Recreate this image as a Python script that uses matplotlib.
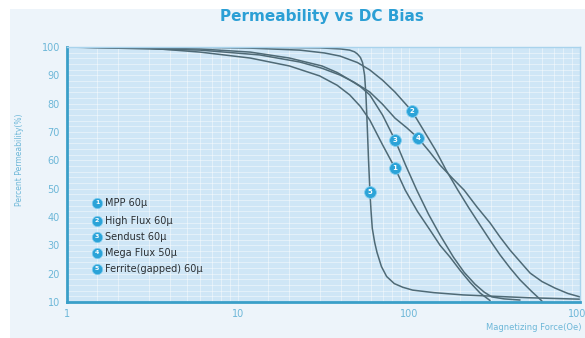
import matplotlib.pyplot as plt
from matplotlib.patches import Rectangle
from matplotlib.ticker import FixedLocator, NullFormatter

# Curves: magnetizing force (Oe) vs percent permeability
mpp_x = [1, 3, 6, 11.8, 20, 30, 38, 45, 52, 59, 70, 82.8, 95, 112, 133, 152, 174, 200, 227, 260, 298]
mpp_y = [100, 99.6, 98.2, 96.1, 93.3, 89.8, 86.5, 83.1, 79, 74.2, 65.5, 57.3, 49.5, 42, 35.3, 30, 25.8, 21, 17, 13.2, 10.5]

hf_x = [1, 6, 11.8, 23, 32, 39.5, 50, 59, 70, 82.8, 104, 122, 143, 165, 193, 225, 260, 300, 341, 390, 446, 520, 600]
hf_y = [100, 99.9, 99.6, 98.9, 97.9, 96.8, 94.5, 91.9, 88.3, 84.1, 77.4, 70.5, 63.6, 56.5, 49.5, 43, 37.2, 31.5, 26.6, 22, 17.8, 13.8, 10.3]

sen_x = [1, 6, 11.8, 20, 31, 38, 45, 52, 59, 70, 82.8, 96, 111, 130, 152, 182, 210, 243, 275, 305, 360, 446]
sen_y = [100, 99.3, 98.2, 96.1, 93.3, 91, 88.4, 86, 83.1, 76, 67.2, 58, 49.5, 41, 33.6, 25.8, 20.5, 16.3, 13.5, 11.8, 11.1, 10.7]

mega_x = [1, 6, 13.4, 23, 31, 39.5, 48, 59, 70, 82.8, 97, 113, 132, 152, 180, 210, 250, 298, 340, 390, 450, 511, 600, 715, 850, 1000]
mega_y = [100, 98.9, 97.2, 94.7, 92.5, 90.1, 87.5, 84.1, 79.8, 74.9, 71.5, 67.9, 63, 58.3, 53.6, 49.5, 43.5, 37.9, 33, 28.3, 24, 20.2, 17.2, 14.9, 13, 11.8]

fer_x = [1, 10, 30, 40, 45, 48, 50, 52, 53.5, 55, 56, 57, 58, 59.1, 60, 61, 63, 65, 69, 74, 82, 92, 105, 140, 207, 320, 500, 1000]
fer_y = [100, 100, 99.7, 99.3, 98.9, 98.3, 97.5, 96.3, 94.5, 90, 83, 72, 60, 48.8, 42, 36, 31, 27.5, 22.5, 19, 16.5, 15.2, 14.2, 13.3, 12.5, 12, 11.5, 11]

series = [
    ("MPP 60\u03bc", mpp_x, mpp_y),
    ("High Flux 60\u03bc", hf_x, hf_y),
    ("Sendust 60\u03bc", sen_x, sen_y),
    ("Mega Flux 50\u03bc", mega_x, mega_y),
    ("Ferrite(gapped) 60\u03bc", fer_x, fer_y),
]

# numbered badges on the curves
badge_num = ["1", "2", "3", "4", "5"]
badge_x = [82.8, 104, 82.8, 113, 59.1]
badge_y = [57.3, 77.4, 67.2, 67.9, 48.8]

y_ticks = [10, 20, 30, 40, 50, 60, 70, 80, 90, 100]
x_ticks = [1, 10, 100, 1000]
x_tick_labels = ["1", "10", "100", "1000"]

line_col = "#4f6a76"
badge_col = "#2ba3d8"
label_col = "#6db7d8"

fig = plt.figure(figsize=(5.85, 3.38), dpi=100, facecolor="white")
fig.patches.append(Rectangle((10 / 585, 0), 1, 1 - 9 / 338, transform=fig.transFigure,
                             facecolor="#edf4fa", edgecolor="none", zorder=-10))

ax = fig.add_axes([67 / 585, 36 / 338, 513 / 585, 255 / 338])
ax.set_facecolor("#cfe6f6")
ax.set_xscale("log")
ax.set_xlim(1, 1000)
ax.set_ylim(10, 100)

# fine white grid
ax.xaxis.set_minor_locator(FixedLocator([m * d for d in (1, 10, 100) for m in (1.5, 2, 3, 4, 5, 6, 7, 8, 9)]))
ax.xaxis.set_minor_formatter(NullFormatter())
ax.yaxis.set_minor_locator(FixedLocator(list(range(12, 100, 2))))
ax.grid(True, which="both", color="white", linewidth=0.5, alpha=0.6)
ax.set_axisbelow(True)

for name, xs, ys in series:
    ax.plot(xs, ys, color=line_col, linewidth=1.1, solid_capstyle="round")

for n, bx, by in zip(badge_num, badge_x, badge_y):
    ax.plot(bx, by, "o", markersize=8.5, color=badge_col, markeredgecolor="#7fcdf0",
            markeredgewidth=0.6, zorder=5)
    ax.text(bx, by, n, color="white", fontsize=5, fontweight="bold",
            ha="center", va="center", zorder=6)

# legend rows drawn as text in axes coordinates
leg_y = [203, 221, 237, 253, 269]
for (name, _, _), n, py in zip(series, badge_num, leg_y):
    yy = (302 - py) / 255
    ax.plot(30 / 513, yy, "o", markersize=7.5, color=badge_col, markeredgecolor="#7fcdf0",
            markeredgewidth=0.5, transform=ax.transAxes, clip_on=False, zorder=5)
    ax.text(30 / 513, yy, n, color="white", fontsize=4.5, fontweight="bold",
            ha="center", va="center", transform=ax.transAxes, zorder=6)
    ax.text(38 / 513, yy, name, color="#2a2f33", fontsize=7, ha="left", va="center",
            transform=ax.transAxes)

ax.set_yticks(y_ticks)
ax.set_xticks(x_ticks)
ax.set_xticklabels(x_tick_labels)
ax.tick_params(which="both", length=0, colors=label_col, labelsize=7, pad=5)

for s in ("left", "bottom"):
    ax.spines[s].set_color("#3a9fc8")
    ax.spines[s].set_linewidth(2)
for s in ("top", "right"):
    ax.spines[s].set_color("#a9d3ec")
    ax.spines[s].set_linewidth(1)

fig.text(322 / 585, 1 - 16 / 338, "Permeability vs DC Bias", color="#2b9fd5",
         fontsize=11, fontweight="bold", ha="center", va="center")
fig.text(20 / 585, 1 - 160 / 338, "Percent Permeability(%)", color=label_col,
         fontsize=5.5, rotation=90, ha="center", va="center")
fig.text(582 / 585, 1 - 327 / 338, "Magnetizing Force(Oe)", color=label_col,
         fontsize=6, ha="right", va="center")

fig.savefig("out.png", dpi=100, facecolor=fig.get_facecolor())
